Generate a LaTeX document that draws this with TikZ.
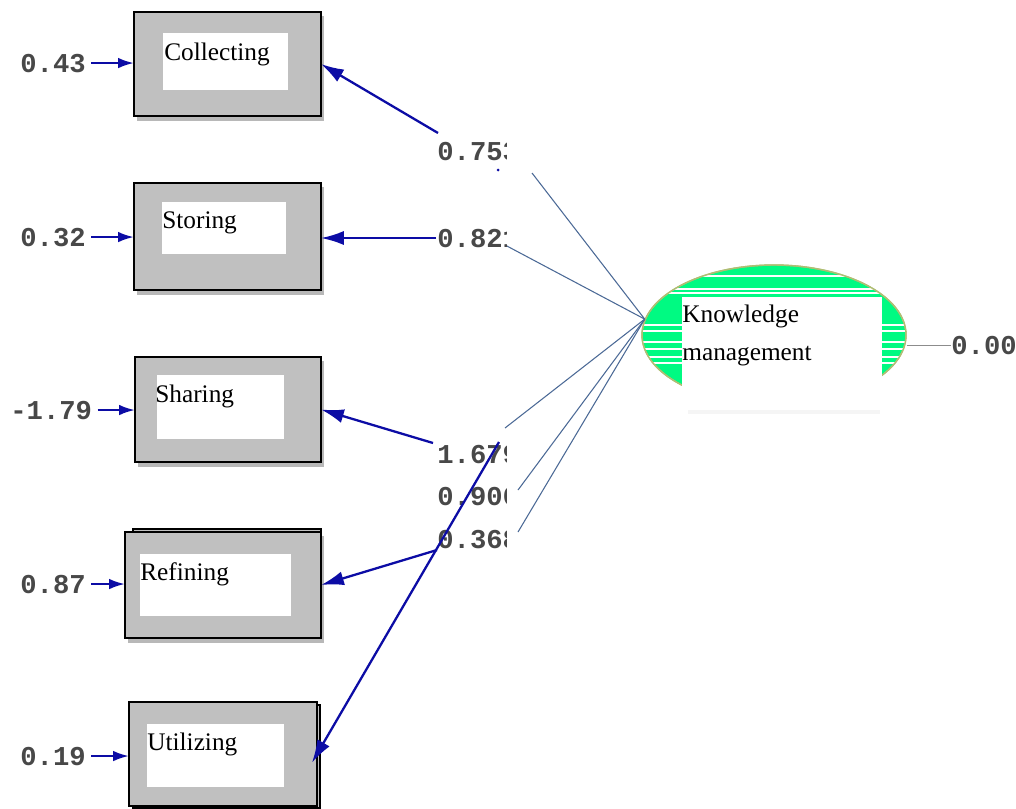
\documentclass[tikz,border=0pt]{standalone}
\usepackage{fontspec}
\setmainfont{Liberation Serif}
\newfontfamily\labmono{Liberation Mono}
\usetikzlibrary{arrows.meta,fit,shapes.geometric}
\definecolor{boxgray}{RGB}{192,192,192}
\definecolor{arrblue}{RGB}{12,12,165}
\definecolor{steel}{RGB}{75,105,150}
\definecolor{labgray}{RGB}{72,72,72}
\definecolor{kmgreen}{RGB}{0,250,130}
\definecolor{kmborder}{RGB}{175,190,115}
\begin{document}
\begin{tikzpicture}[x=0.02cm,y=-0.02cm,
  outerbox/.style={draw=black, line width=1.2pt, fill=boxgray, inner sep=0pt, outer sep=0pt},
  backbox/.style={draw=black, line width=1.2pt, fill=boxgray, inner sep=0pt, outer sep=0pt},
  boxshadow/.style={fill=black!28, draw=none},
  innerbox/.style={fill=white, draw=none, inner sep=0pt, outer sep=0pt},
  vartext/.style={font=\fontsize{14.4}{16}\selectfont, anchor=base west, inner sep=0pt},
  numlab/.style={font=\labmono\bfseries\fontsize{15.5}{16}\selectfont, text=labgray, anchor=base west, inner sep=0pt},
  errarrow/.style={draw=arrblue, line width=1.4pt, -{Latex[length=9pt,width=6pt]}, shorten <=3pt},
  coefarrow/.style={draw=arrblue, line width=1.3pt, -{Latex[length=13pt,width=8pt]}},
  loadline/.style={draw=steel, line width=0.6pt},
  resline/.style={draw=black!45, line width=0.5pt}]
\useasboundingbox (0,0) rectangle (1016,808);
\fill[white] (0,0) rectangle (1016,808);

% ---------- observed variable boxes ----------
% Collecting
\fill[boxshadow] (137,16) rectangle (324,121);
\node[outerbox, fit={(134,12) (321,116)}] (coll) {};
\node[innerbox, fit={(163,33) (288,90)}] (collin) {};
\node[vartext] (collt) at (164,60) {Collecting};
% Storing
\fill[boxshadow] (137,187) rectangle (324,295);
\node[outerbox, fit={(134,183) (321,290)}] (stor) {};
\node[innerbox, fit={(162,202) (286,254)}] (storin) {};
\node[vartext] (stort) at (162,228) {Storing};
% Sharing
\fill[boxshadow] (138,361) rectangle (324,467);
\node[outerbox, fit={(135,357) (321,462)}] (shar) {};
\node[innerbox, fit={(157,375) (284,439)}] (sharin) {};
\node[vartext] (shart) at (155,402) {Sharing};
% Refining
\fill[boxshadow] (128,536) rectangle (324,643);
\node[backbox, fit={(133,529) (321,634)}] (refiback) {};
\node[outerbox, fit={(125,532) (321,638)}] (refi) {};
\node[innerbox, fit={(140,554) (291,616)}] (refiin) {};
\node[vartext] (refit) at (140,580) {Refining};
% Utilizing
\node[backbox, fit={(133,705) (320,808)}] (utilback) {};
\node[outerbox, fit={(129,702) (317,806)}] (util) {};
\node[innerbox, fit={(147,724) (284,787)}] (utilin) {};
\node[vartext] (utilt) at (147,750) {Utilizing};

% ---------- error terms ----------
\node[numlab] (e1) at (20,72) {0.43};
\node[numlab] (e2) at (20,246) {0.32};
\node[numlab] (e3) at (10,419) {-1.79};
\node[numlab] (e4) at (20,593) {0.87};
\node[numlab] (e5) at (20,765) {0.19};
\draw[errarrow] (e1.east) -- (coll.west |- e1.east);
\draw[errarrow] (e2.east) -- (stor.west |- e2.east);
\draw[errarrow] (e3.east) -- (shar.west |- e3.east);
\draw[errarrow] (e4.east) -- (refi.west |- e4.east);
\draw[errarrow] (e5.east) -- (util.west |- e5.east);

% ---------- latent variable ----------
\node[ellipse, draw=kmborder, fill=kmgreen, line width=0.8pt, inner sep=0pt,
      minimum width=5.28cm, minimum height=2.8cm] (km) at (774,335) {};
\begin{scope}
  \clip (774,335) ellipse [x radius=2.64cm, y radius=1.4cm];
  \foreach \yy in {276,289,293,325,331,342,349,357,363}
    \draw[white, line width=0.7pt] (630,\yy) -- (920,\yy);
\end{scope}
\draw[kmborder, line width=0.8pt] (774,335) ellipse [x radius=2.64cm, y radius=1.4cm];
\fill[black!4] (688,410) rectangle (880,414);
\node[innerbox, fit={(682,297) (882,410)}] (kmbox) {};
\node[vartext] (kmt1) at (682,322) {Knowledge};
\node[vartext] (kmt2) at (682,360) {management};

\node[numlab] (e0) at (951,354) {0.00};
\draw[resline] (e0.west -| km.east) -- (e0.west);

% ---------- loadings ----------
\coordinate (s1) at (532,173);
\coordinate (s2) at (505,245);
\coordinate (s3) at (505,428);
\coordinate (s4) at (518,490);
\coordinate (s5) at (518,532);
\foreach \s in {s1,s2,s3,s4,s5}
  \draw[loadline] (km.173) -- (\s);

\begin{scope}
  \clip (425,100) rectangle (506,570);
  \node[numlab] (c1) at (437,160) {0.753};
  \node[numlab] (c2) at (437,247) {0.821};
  \node[numlab] (c3) at (437,463) {1.679};
  \node[numlab] (c4) at (437,505) {0.906};
  \node[numlab] (c5) at (437,548) {0.368};
\end{scope}
\fill[arrblue] (498,170) circle [radius=0.03cm];

\coordinate (b1) at (438,133);
\coordinate (b2) at (436,238);
\coordinate (b3) at (433,443);
\coordinate (b4) at (437,550);
\coordinate (b5) at (499,442);
\draw[coefarrow] (b1) -- (coll.east);
\draw[coefarrow] (b2) -- (stor.east |- b2);
\draw[coefarrow] (b3) -- (shar.east);
\draw[coefarrow] (b4) -- (refi.east);
\draw[coefarrow, shorten >=-0.2cm] (b5) -- (util.east);
\end{tikzpicture}
\end{document}
